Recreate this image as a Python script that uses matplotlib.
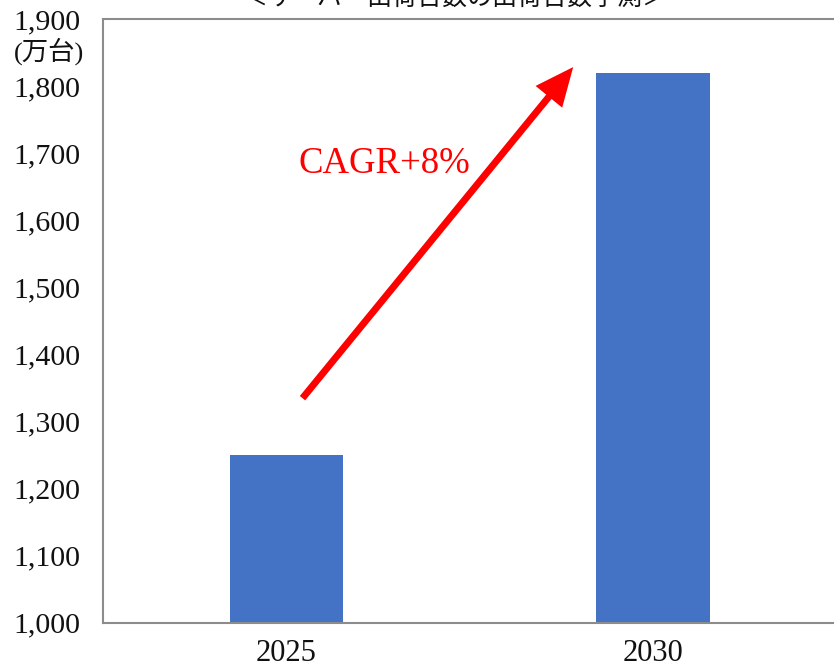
import matplotlib
matplotlib.use("Agg")
import matplotlib.pyplot as plt
from matplotlib.ticker import FuncFormatter

# Server shipment forecast (10,000 units)
years = ["2025", "2030"]
shipments = [1250, 1820]
y_ticks = list(range(1000, 2000, 100))
title = "＜サーバー出荷台数の出荷台数予測＞"
unit_label = "(万台)"
growth_label = "CAGR+8%"

SERIF = ["Liberation Serif", "Noto Sans CJK JP", "DejaVu Serif"]
CJK = ["Noto Sans CJK JP", "DejaVu Sans"]
BAR_COLOR = "#4472C4"
SPINE_COLOR = "#8c8c8c"

W, H = 834, 668
fig = plt.figure(figsize=(W / 100, H / 100), dpi=100)
ax = fig.add_axes([103 / W, (H - 622.7) / H, (836.5 - 103) / W, (622.7 - 19.5) / H])

x = list(range(len(years)))
ax.bar(x, shipments, width=0.31, color=BAR_COLOR, zorder=2)

ax.set_xlim(-0.5, 1.5)
ax.set_ylim(y_ticks[0], y_ticks[-1])
ax.set_xticks(x)
ax.set_xticklabels(years)
ax.set_yticks(y_ticks)
ax.yaxis.set_major_formatter(FuncFormatter(lambda v, _: f"{int(v):,}"))

ax.tick_params(axis="y", length=0, pad=16.5, labelsize=21.5)
ax.tick_params(axis="x", length=0, pad=12, labelsize=22)
for lab in ax.get_xticklabels() + ax.get_yticklabels():
    lab.set_fontfamily(SERIF)
    lab.set_color("#111111")

for side in ("left", "top", "bottom"):
    ax.spines[side].set_color(SPINE_COLOR)
    ax.spines[side].set_linewidth(1.5)
ax.spines["right"].set_visible(False)

# Growth arrow between the two years
ax.annotate(
    "",
    xy=(0.782, 1829),
    xytext=(0.044, 1335),
    arrowprops=dict(
        arrowstyle="-|>,head_length=1.9,head_width=0.85",
        mutation_scale=10,
        lw=5,
        color="#FF0000",
        shrinkA=0,
        shrinkB=0,
        capstyle="butt",
        joinstyle="miter",
    ),
    zorder=3,
)
ax.text(0.033, 1671, growth_label, color="#FF0000", fontsize=26.5,
        family=SERIF, ha="left", va="baseline", zorder=4)

# Unit label under the top tick
fig.text(49 / W, 1 - 51 / H, unit_label, fontsize=19, family=SERIF,
         ha="center", va="center", color="#111111")

# Chart title at the top edge
fig.text(455 / W, 1 - 5 / H, title, fontsize=18, family=CJK,
         ha="center", va="baseline", color="#111111")

fig.savefig("out.png", dpi=100)
